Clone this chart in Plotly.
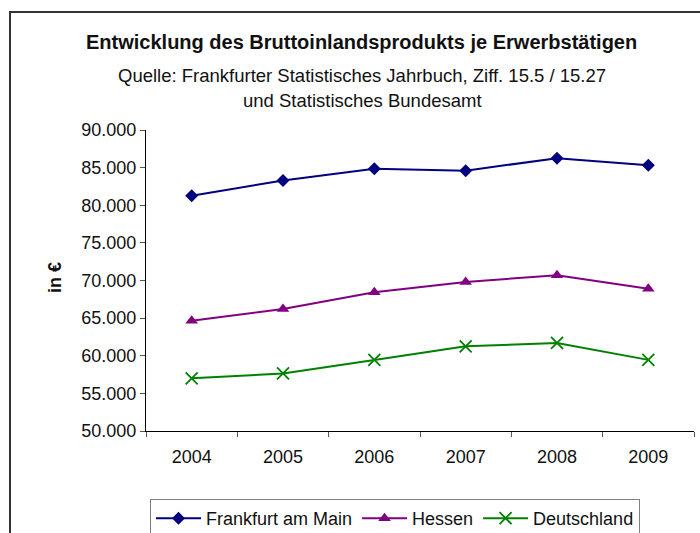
import plotly.graph_objects as go

years = ["2004", "2005", "2006", "2007", "2008", "2009"]
frankfurt = [81250, 83300, 84850, 84600, 86250, 85300]
hessen = [64650, 66200, 68450, 69800, 70700, 68900]
deutschland = [57000, 57650, 59450, 61250, 61700, 59450]

W, H = 700, 533
L, R, T, B = 146, 6, 130, 102
PW, PH = W - L - R, H - T - B

def px(x):
    return (x - L) / PW

def py(y):
    return (H - B - y) / PH

FONT = "Liberation Sans, Arial, sans-serif"

fig = go.Figure()
fig.add_trace(go.Scatter(
    x=years, y=frankfurt, name="Frankfurt am Main", mode="lines+markers",
    line=dict(color="#000080", width=2),
    marker=dict(symbol="diamond", size=10, color="#000080")))
fig.add_trace(go.Scatter(
    x=years, y=hessen, name="Hessen", mode="lines+markers",
    line=dict(color="#800080", width=2),
    marker=dict(symbol="triangle-up", size=11, color="#800080")))
fig.add_trace(go.Scatter(
    x=years, y=deutschland, name="Deutschland", mode="lines+markers",
    line=dict(color="#008000", width=2),
    marker=dict(symbol="x-thin", size=12, color="#008000",
                line=dict(color="#008000", width=1.8))))

fig.update_layout(
    width=W, height=H,
    margin=dict(l=L, r=R, t=T, b=B, autoexpand=False),
    paper_bgcolor="white", plot_bgcolor="white",
    separators=",.",
    font=dict(family=FONT, size=18, color="#111111"),
    showlegend=True,
    legend=dict(orientation="h", xref="container", yref="container",
                x=150 / W, y=(H - 499) / H, xanchor="left", yanchor="top",
                bordercolor="#7f7f7f", borderwidth=1, bgcolor="white",
                font=dict(size=18, family=FONT, color="#111111"),
                itemwidth=45),
    xaxis=dict(type="category", range=[-0.5, 5.5], showline=True, linecolor="black",
               linewidth=1, ticks="outside", tickson="boundaries", ticklen=5,
               tickcolor="#555555", showgrid=False, zeroline=False,
               ticklabelstandoff=9, tickfont=dict(size=18), automargin=False),
    yaxis=dict(range=[50000, 90000], dtick=5000, tickformat=",d", showline=True,
               linecolor="black", linewidth=1, ticks="outside", ticklen=5,
               tickcolor="#555555", showgrid=False, zeroline=False,
               tickfont=dict(size=18), automargin=False),
    shapes=[dict(type="rect", xref="paper", yref="paper",
                 x0=px(10), x1=px(720), y0=py(12), y1=py(560),
                 line=dict(color="#333333", width=2), fillcolor="rgba(0,0,0,0)",
                 layer="below")],
    annotations=[
        dict(text="<b>Entwicklung des Bruttoinlandsprodukts je Erwerbstätigen</b>",
             xref="paper", yref="paper", x=px(361), y=py(42), showarrow=False,
             xanchor="center", yanchor="middle", font=dict(size=20, family=FONT, color="#111111")),
        dict(text="Quelle: Frankfurter Statistisches Jahrbuch, Ziff. 15.5 / 15.27",
             xref="paper", yref="paper", x=px(362), y=py(75), showarrow=False,
             xanchor="center", yanchor="middle", font=dict(size=18.5, family=FONT, color="#111111")),
        dict(text="und Statistisches Bundesamt",
             xref="paper", yref="paper", x=px(362), y=py(100), showarrow=False,
             xanchor="center", yanchor="middle", font=dict(size=18.5, family=FONT, color="#111111")),
        dict(text="<b>in €</b>", textangle=-90,
             xref="paper", yref="paper", x=px(55), y=py(278), showarrow=False,
             xanchor="center", yanchor="middle", font=dict(size=18, family=FONT, color="#111111")),
    ],
)

fig.write_html("out.html", config={"displayModeBar": False},
               post_script="document.body.style.margin='0';document.body.style.overflow='hidden';")
